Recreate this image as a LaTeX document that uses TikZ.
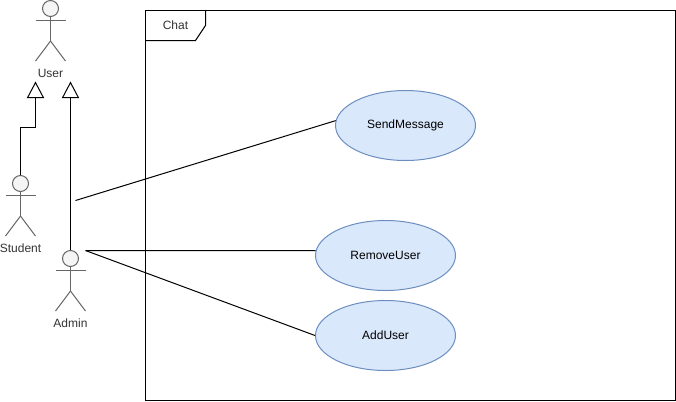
\documentclass[tikz,border=0pt]{standalone}
\usepackage{fontspec}
\setmainfont{Liberation Sans}
\usetikzlibrary{shapes.geometric,arrows.meta,positioning}
\definecolor{limbgray}{HTML}{666666}
\definecolor{headfill}{HTML}{F5F5F5}
\definecolor{textgray}{HTML}{333333}
\definecolor{usefill}{HTML}{DAE8FC}
\definecolor{usedraw}{HTML}{6C8EBF}
\tikzstyle{head} = [draw=limbgray,line width=0.75pt,circle,inner sep=0,minimum size=16*0.75pt,fill=headfill]
\tikzstyle{limb} = [-,draw=limbgray,line width=0.75pt]
\tikzstyle{actorname} = [font=\fontsize{9}{11}\selectfont,text=textgray,inner sep=0]
\tikzstyle{usecase} = [draw=usedraw,line width=0.75pt,ellipse,inner sep=0,minimum width=140*0.75pt,minimum height=70*0.75pt,fill=usefill,font=\fontsize{9}{11}\selectfont]
\tikzstyle{link} = [-,line width=0.75pt]
\tikzstyle{inherit} = [-{Triangle[open,fill=white,length=12.5pt,width=13pt]},line width=0.75pt]

\begin{document}
\begin{tikzpicture}[x=0.75pt,y=-0.75pt]
      \useasboundingbox (-0.5,-0.5) rectangle (675.5,400.5);
      \foreach \id/\cx/\cy/\txt in {user/50/8/User,student/20/183/Student,admin/70/258/Admin}{
        \node[head] (\id) at (\cx,\cy) {};
        \draw[limb] (\id.south) -- +(0,24) coordinate (\id hip);
        \draw[limb] (\cx-15,\cy+12) -- (\cx+15,\cy+12);
        \draw[limb] (\id hip) -- +(-15,20);
        \draw[limb] (\id hip) -- +(15,20);
        \node[actorname] (\id name) at (\cx,\cy+65) {\txt};
      }
      \draw[line width=0.75pt] (145,10) rectangle (675,400);
      \draw[line width=0.75pt] (205,10) -- (205,25) -- (195,40) -- (145,40);
      \node[font=\fontsize{9}{11}\selectfont,text=textgray,inner sep=0] (chat) at (175,25) {Chat};
      \node[usecase] (send) at (405,125) {SendMessage};
      \node[usecase] (remove) at (385,255) {RemoveUser};
      \node[usecase] (add) at (385,335) {AddUser};
      \coordinate (usertipa) at (35,81);
      \coordinate (usertipb) at (70,81);
      \coordinate (bend) at (35,127);
      \coordinate (adminhand) at (85,250);
      \coordinate (adminreach) at (75,200);
      \draw[inherit] (student.north) |- (bend) -- (usertipa);
      \draw[inherit] (admin.north) -- (usertipb);
      \draw[link] (adminreach) -- (send.176);
      \draw[link] (adminhand) -- (remove.176);
      \draw[link] (adminhand) -- (add.west);
    \end{tikzpicture}
\end{document}
